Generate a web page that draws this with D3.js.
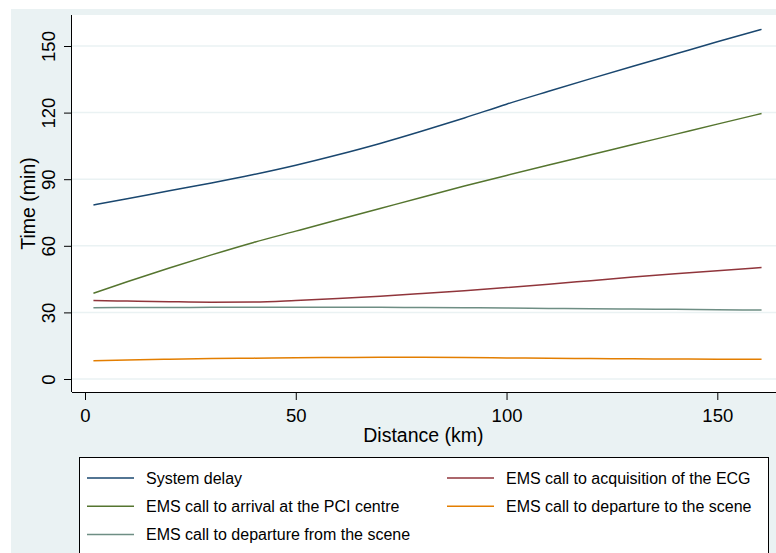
<!DOCTYPE html>
<html>
  <head>
    <meta charset="UTF-8" />
    <style>
      body {
        margin: 0;
        background: #fff;
        font-family: "Liberation Sans", Arial, sans-serif;
      }
    </style>
  </head>
  <body>
    <svg></svg>
    <script src="https://d3js.org/d3.v7.min.js"></script>
    <script>
      let width = 776,
        height = 553;

      // Data
      const distance = [2, 10, 20, 30, 40, 50, 60, 70, 80, 90, 100, 110, 120, 130, 140, 150, 160.5];
      const systemDelay = [78.4, 81.2, 84.8, 88.3, 92.1, 96.3, 101.0, 106.1, 111.7, 117.6, 123.8, 129.6, 135.3, 140.9, 146.4, 151.9, 157.5];
      const arrivalPci = [38.6, 43.8, 50.0, 55.9, 61.5, 66.6, 71.7, 76.8, 81.9, 86.9, 91.7, 96.4, 101.0, 105.6, 110.2, 114.8, 119.6];
      const acquisitionEcg = [35.4, 35.1, 34.8, 34.6, 34.7, 35.4, 36.3, 37.3, 38.5, 39.8, 41.2, 42.7, 44.3, 45.9, 47.4, 48.8, 50.2];
      const departureFromScene = [32.1, 32.2, 32.2, 32.3, 32.3, 32.3, 32.3, 32.3, 32.2, 32.1, 32.0, 31.8, 31.6, 31.5, 31.4, 31.2, 31.1];
      const departureToScene = [8.2, 8.6, 8.9, 9.2, 9.4, 9.6, 9.7, 9.8, 9.8, 9.7, 9.5, 9.3, 9.2, 9.1, 9.0, 8.9, 8.9];

      const xTicks = [0, 50, 100, 150];
      const yTicks = [0, 30, 60, 90, 120, 150];

      const series = [
        { name: "System delay", values: systemDelay, colour: "#1a476f" },
        { name: "EMS call to acquisition of the ECG", values: acquisitionEcg, colour: "#90353b" },
        { name: "EMS call to arrival at the PCI centre", values: arrivalPci, colour: "#55752f" },
        { name: "EMS call to departure to the scene", values: departureToScene, colour: "#e37e00" },
        { name: "EMS call to departure from the scene", values: departureFromScene, colour: "#6e8e84" },
      ];

      let svg = d3
        .select("svg")
        .attr("width", width)
        .attr("height", height)
        .style("display", "block");

      // Graph region background (Stata s2color)
      svg
        .append("rect")
        .attr("x", 11)
        .attr("y", 9)
        .attr("width", width - 11)
        .attr("height", height - 9)
        .attr("fill", "#eaf2f3");

      let plot = { left: 72, top: 15, right: width, bottom: 392 };

      svg
        .append("rect")
        .attr("x", plot.left)
        .attr("y", plot.top)
        .attr("width", plot.right - plot.left)
        .attr("height", plot.bottom - plot.top)
        .attr("fill", "#fff");

      let x = d3.scaleLinear().domain([0, 150]).range([85, 717.3]);
      let y = d3.scaleLinear().domain([0, 150]).range([379, 46]);

      // Gridlines
      svg
        .append("g")
        .selectAll("line")
        .data(yTicks)
        .enter()
        .append("line")
        .attr("x1", plot.left)
        .attr("x2", plot.right)
        .attr("y1", (d) => y(d))
        .attr("y2", (d) => y(d))
        .attr("stroke", "#eaf2f3")
        .attr("stroke-width", 1.5);

      // Lines
      let line = d3
        .line()
        .x((d, i) => x(distance[i]))
        .y((d) => y(d))
        .curve(d3.curveMonotoneX);

      svg
        .append("g")
        .selectAll("path")
        .data(series)
        .enter()
        .append("path")
        .attr("fill", "none")
        .attr("stroke", (d) => d.colour)
        .attr("stroke-width", 1.5)
        .attr("d", (d) => line(d.values));

      // Axes
      let xAxis = d3.axisBottom(x).tickValues(xTicks).tickSize(8);
      let gx = svg
        .append("g")
        .attr("transform", "translate(0," + plot.bottom + ")")
        .call(xAxis);
      gx.select(".domain").attr("d", "M" + plot.left + ",0.5H" + plot.right);
      gx.selectAll("line").attr("stroke", "#000");
      gx.selectAll("text")
        .style("font-size", "18.5px")
        .attr("fill", "#000")
        .attr("y", 30.3)
        .attr("dy", null);

      let yAxis = d3.axisLeft(y).tickValues(yTicks).tickSize(8);
      let gy = svg
        .append("g")
        .attr("transform", "translate(" + plot.left + ",0)")
        .call(yAxis);
      gy.select(".domain").attr("d", "M-0.5," + plot.top + "V" + plot.bottom);
      gy.selectAll("line").attr("stroke", "#000");
      gy.selectAll("text")
        .style("font-size", "18.5px")
        .attr("fill", "#000")
        .attr("x", null)
        .attr("dy", null)
        .attr("text-anchor", "middle")
        .attr("transform", "translate(-17,0) rotate(-90)");

      // Axis titles
      svg
        .append("text")
        .attr("x", 423.4)
        .attr("y", 442.3)
        .attr("text-anchor", "middle")
        .style("font-size", "19.5px")
        .text("Distance (km)");

      svg
        .append("text")
        .attr("transform", "translate(34.5,203.5) rotate(-90)")
        .attr("text-anchor", "middle")
        .style("font-size", "19.5px")
        .text("Time (min)");

      // Legend
      let legend = svg.append("g").attr("class", "legend");
      legend
        .append("rect")
        .attr("x", 79.5)
        .attr("y", 457.5)
        .attr("width", 689)
        .attr("height", 110)
        .attr("fill", "#fff")
        .attr("stroke", "#000");

      let cells = legend
        .selectAll(".cell")
        .data(series)
        .enter()
        .append("g")
        .attr("class", "cell")
        .attr("transform", (d, i) => "translate(" + (i % 2 ? 447 : 87) + "," + (478 + Math.floor(i / 2) * 28.3) + ")");

      cells
        .append("line")
        .attr("x1", 0)
        .attr("x2", 47)
        .attr("stroke", (d) => d.colour)
        .attr("stroke-width", 1.5);

      cells
        .append("text")
        .attr("x", 59)
        .attr("dy", "0.36em")
        .style("font-size", "16px")
        .text((d) => d.name);
    </script>
  </body>
</html>
